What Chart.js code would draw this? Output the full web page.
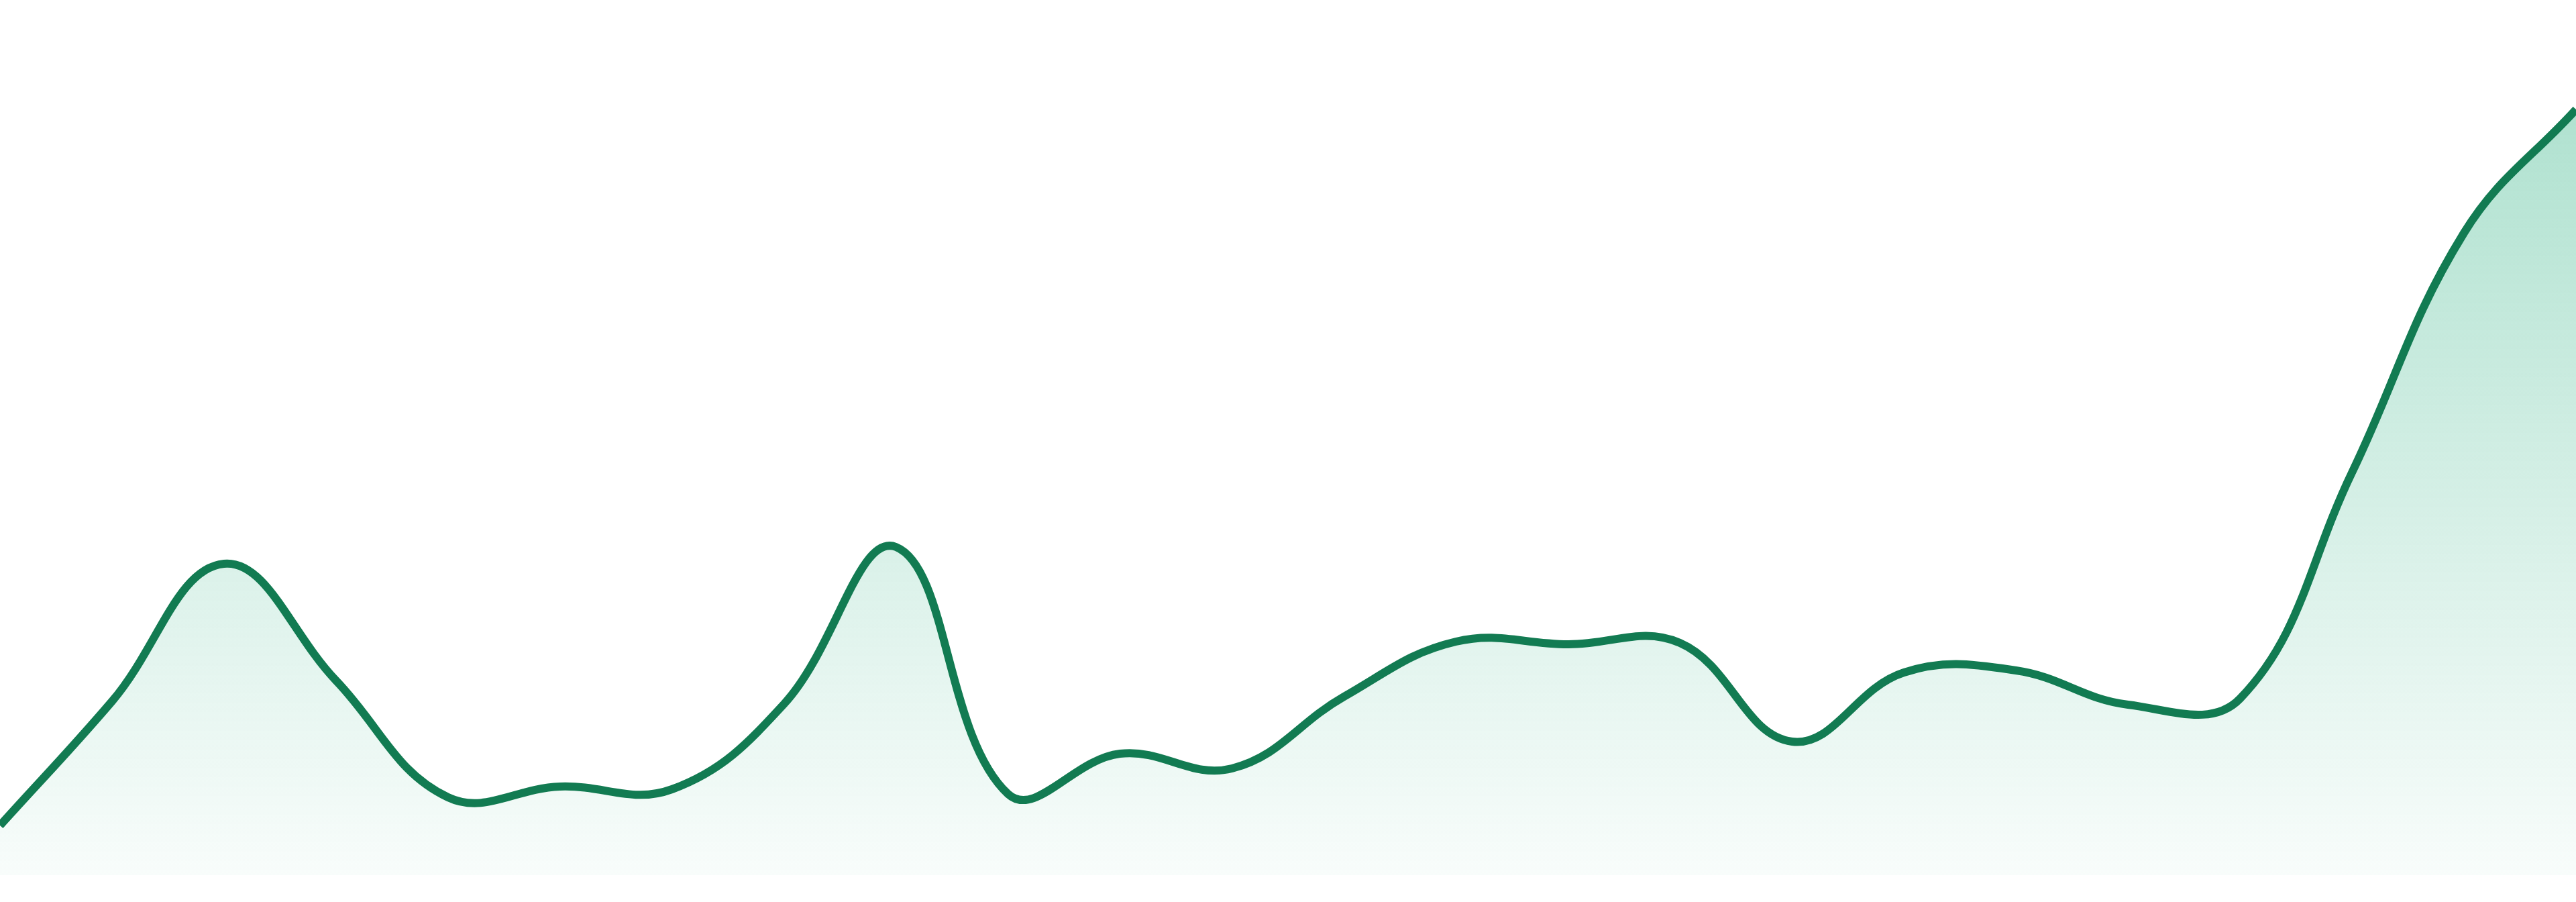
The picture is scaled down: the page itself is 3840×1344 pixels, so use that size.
<!DOCTYPE html>
<html lang="en">
<head>
    <meta charset="UTF-8">
    <title>Trend</title>
    <script src="https://cdn.jsdelivr.net/npm/chart.js@4"></script>
    <style>
        html, body { margin: 0; padding: 0; background: #fff; }
        #chartContainer { width: 3840px; height: 1344px; position: relative; }
    </style>
</head>
<body>
    <div id="chartContainer">
        <canvas id="trendChart"></canvas>
    </div>

    <script>
        // values
        const labels = ['1', '2', '3', '4', '5', '6', '7', '8', '9', '10', '11', '12',
                        '13', '14', '15', '16', '17', '18', '19', '20', '21', '22', '23', '24'];
        const values = [7.4, 25.9, 46.4, 29.0, 11.6, 13.2, 12.8, 25.5, 48.9, 12.1, 18.1, 15.9,
                        26.6, 34.8, 34.4, 34.6, 19.9, 30.2, 30.5, 25.4, 26.3, 60.0, 95.7, 114.1];
        const yMin = 0;
        const yMax = 130.4;

        const lineColor = '#127b52';

        // vertical gradient under the line
        function areaFill(context) {
            const chart = context.chart;
            const area = chart.chartArea;
            if (!area) return 'rgba(32,172,122,0.15)';
            const g = chart.ctx.createLinearGradient(0, area.top, 0, area.bottom);
            g.addColorStop(0, 'rgba(32,172,122,0.40)');
            g.addColorStop(1, 'rgba(32,172,122,0.03)');
            return g;
        }

        const ctx = document.getElementById('trendChart').getContext('2d');

        new Chart(ctx, {
            type: 'line',
            data: {
                labels: labels,
                datasets: [{
                    data: values,
                    borderColor: lineColor,
                    borderWidth: 12,
                    backgroundColor: areaFill,
                    fill: 'origin',
                    tension: 0.4,
                    pointRadius: 0,
                    pointHoverRadius: 0
                }]
            },
            options: {
                responsive: true,
                maintainAspectRatio: false,
                animation: false,
                layout: {
                    padding: { left: 0, right: 0, top: 0, bottom: 40 }
                },
                scales: {
                    x: { display: false, offset: false },
                    y: { display: false, min: yMin, max: yMax }
                },
                plugins: {
                    legend: { display: false },
                    tooltip: { enabled: false }
                }
            }
        });
    </script>
</body>
</html>
